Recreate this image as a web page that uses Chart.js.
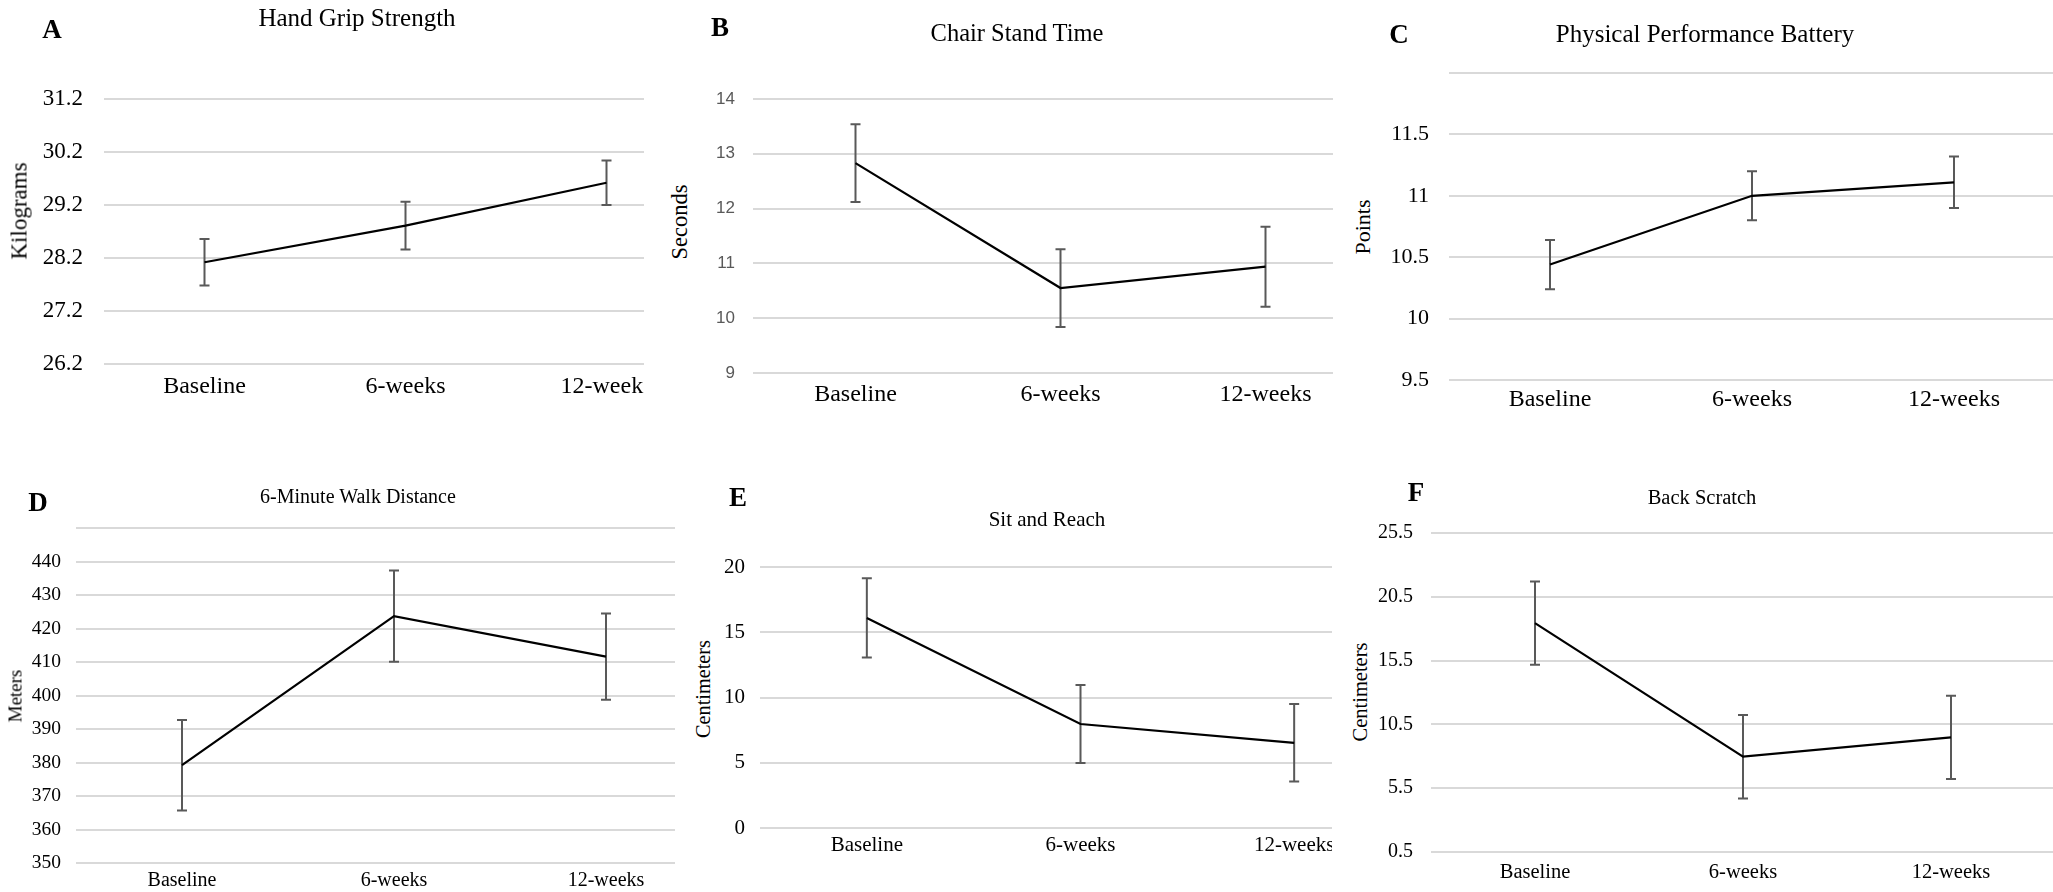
<!DOCTYPE html>
<html><head><meta charset="utf-8">
<script src="https://cdn.jsdelivr.net/npm/chart.js@4.4.0/dist/chart.umd.min.js"></script>
<style>
html,body{margin:0;padding:0;background:#fff;}
body{width:2053px;height:892px;position:relative;overflow:hidden;font-family:"Liberation Serif","Times New Roman",serif;}
.wrap{position:absolute;overflow:hidden;}
.wrap canvas{position:absolute;left:0;top:0;}
.txt{position:absolute;white-space:nowrap;line-height:1;color:#000;transform:translate(-50%,-50%);}
.letter{font-weight:bold;}
.ytitle{transform:translate(-50%,-50%) rotate(-90deg);}
</style></head><body>
<div id="root"></div>
<script>
// ---------- data ----------
const categories = ['Baseline', '6-weeks', '12-weeks'];

const gripMean = [28.12, 28.81, 29.62];
const gripErr  = [0.44, 0.45, 0.42];
const gripTicks = [26.2, 27.2, 28.2, 29.2, 30.2, 31.2];
const gripTickLabels = ['26.2', '27.2', '28.2', '29.2', '30.2', '31.2'];

const chairMean = [12.83, 10.55, 10.94];
const chairErr  = [0.71, 0.71, 0.73];
const chairTicks = [9, 10, 11, 12, 13, 14];
const chairTickLabels = ['9', '10', '11', '12', '13', '14'];

const sppbMean = [10.44, 11.0, 11.11];
const sppbErr  = [0.2, 0.2, 0.21];
const sppbTicks = [9.5, 10, 10.5, 11, 11.5, 12];
const sppbTickLabels = ['9.5', '10', '10.5', '11', '11.5', ''];

const walkMean = [379.2, 423.7, 411.6];
const walkErr  = [13.5, 13.6, 12.9];
const walkTicks = [350, 360, 370, 380, 390, 400, 410, 420, 430, 440, 450];
const walkTickLabels = ['350', '360', '370', '380', '390', '400', '410', '420', '430', '440', ''];

const sitMean = [16.1, 7.97, 6.53];
const sitErr  = [3.04, 2.99, 2.97];
const sitTicks = [0, 5, 10, 15, 20];
const sitTickLabels = ['0', '5', '10', '15', '20'];

const scratchMean = [18.44, 7.97, 9.48];
const scratchErr  = [3.26, 3.27, 3.26];
const scratchTicks = [0.5, 5.5, 10.5, 15.5, 20.5, 25.5];
const scratchTickLabels = ['0.5', '5.5', '10.5', '15.5', '20.5', '25.5'];

const panelTitles = ['Hand Grip Strength', 'Chair Stand Time', 'Physical Performance Battery',
                     '6-Minute Walk Distance', 'Sit and Reach', 'Back Scratch'];
const panelLetters = ['A', 'B', 'C', 'D', 'E', 'F'];
const axisTitles = ['Kilograms', 'Seconds', 'Points', 'Meters', 'Centimeters', 'Centimeters'];

// ---------- layout / style ----------
const SERIF = '"Liberation Serif", "Times New Roman", serif';
const SANS = '"Liberation Sans", Arial, sans-serif';

const panels = [
  {mean: gripMean, err: gripErr, ticks: gripTicks, labels: gripTickLabels,
   L:30, T:0, clipW:614, W:677, H:420, yW:74, padTop:99, xH:56, yPad:21, xPad:8,
   tickFont:{family:SERIF,size:23}, tickColor:'#000', catSize:24,
   title:{x:357,y:17,size:25}, letter:{x:52,y:29,size:27}, ytitle:{x:19,y:211,size:23}},
  {mean: chairMean, err: chairErr, ticks: chairTicks, labels: chairTickLabels,
   L:700, T:0, clipW:633, W:668, H:420, yW:53, padTop:99, xH:47, yPad:18, xPad:7,
   tickFont:{family:SANS,size:17}, tickColor:'#595959', catSize:24,
   title:{x:1017,y:33,size:24.5}, letter:{x:720,y:27,size:27}, ytitle:{x:680,y:222,size:22.5}},
  {mean: sppbMean, err: sppbErr, ticks: sppbTicks, labels: sppbTickLabels,
   L:1385, T:0, clipW:668, W:670, H:420, yW:64, padTop:73, xH:40, yPad:20, xPad:5,
   tickFont:{family:SERIF,size:22}, tickColor:'#000', catSize:24,
   title:{x:1705,y:33,size:25}, letter:{x:1399,y:34,size:27}, ytitle:{x:1363,y:227,size:22}},
  {mean: walkMean, err: walkErr, ticks: walkTicks, labels: walkTickLabels,
   L:20, T:460, clipW:655, W:692, H:432, yW:56, padTop:68, xH:29, yPad:15, xPad:6,
   tickFont:{family:SERIF,size:19.5}, tickColor:'#000', catSize:20,
   title:{x:358,y:496,size:20}, letter:{x:38,y:502,size:27}, ytitle:{x:15,y:696,size:19}},
  {mean: sitMean, err: sitErr, ticks: sitTicks, labels: sitTickLabels,
   L:715, T:460, clipW:617, W:686, H:432, yW:45, padTop:107, xH:64, yPad:15, xPad:5,
   tickFont:{family:SERIF,size:21}, tickColor:'#000', catSize:21,
   title:{x:1047,y:519,size:21}, letter:{x:738,y:497,size:27}, ytitle:{x:703,y:689,size:20.3}},
  {mean: scratchMean, err: scratchErr, ticks: scratchTicks, labels: scratchTickLabels,
   L:1375, T:460, clipW:678, W:680, H:432, yW:56, padTop:73, xH:40, yPad:18, xPad:8,
   tickFont:{family:SERIF,size:20}, tickColor:'#000', catSize:20.5,
   title:{x:1702,y:497,size:20.5}, letter:{x:1416,y:492,size:27}, ytitle:{x:1360,y:692,size:20.5}}
];

const errorBarPlugin = {
  id: 'errorBars',
  beforeDatasetsDraw(chart, args, opts) {
    const errs = opts.errors;
    if (!errs) return;
    const meta = chart.getDatasetMeta(0);
    const ys = chart.scales.y;
    const data = chart.data.datasets[0].data;
    const ctx = chart.ctx;
    ctx.save();
    ctx.strokeStyle = opts.color;
    ctx.lineWidth = opts.width;
    meta.data.forEach((pt, i) => {
      const x = pt.x;
      const t = ys.getPixelForValue(data[i] + errs[i]);
      const b = ys.getPixelForValue(data[i] - errs[i]);
      ctx.beginPath();
      ctx.moveTo(x, t); ctx.lineTo(x, b);
      ctx.moveTo(x - opts.cap, t); ctx.lineTo(x + opts.cap, t);
      ctx.moveTo(x - opts.cap, b); ctx.lineTo(x + opts.cap, b);
      ctx.stroke();
    });
    ctx.restore();
  }
};

const root = document.getElementById('root');
function addText(cls, text, p) {
  const d = document.createElement('div');
  d.className = 'txt ' + cls;
  d.textContent = text;
  d.style.left = p.x + 'px';
  d.style.top = p.y + 'px';
  d.style.fontSize = p.size + 'px';
  root.appendChild(d);
}

panels.forEach((p, idx) => {
  const wrap = document.createElement('div');
  wrap.className = 'wrap';
  wrap.style.left = p.L + 'px';
  wrap.style.top = p.T + 'px';
  wrap.style.width = p.clipW + 'px';
  wrap.style.height = p.H + 'px';
  const cv = document.createElement('canvas');
  cv.width = p.W; cv.height = p.H;
  cv.style.width = p.W + 'px'; cv.style.height = p.H + 'px';
  wrap.appendChild(cv);
  root.appendChild(wrap);

  new Chart(cv, {
    type: 'line',
    data: {
      labels: categories,
      datasets: [{
        data: p.mean,
        borderColor: '#000',
        borderWidth: 2.2,
        pointRadius: 0,
        pointHoverRadius: 0,
        tension: 0,
        fill: false
      }]
    },
    options: {
      responsive: false,
      animation: false,
      devicePixelRatio: 1,
      events: [],
      layout: {padding: {left: 0, right: 0, top: p.padTop, bottom: 0}},
      plugins: {
        legend: {display: false},
        tooltip: {enabled: false},
        title: {display: false},
        errorBars: {errors: p.err, color: '#595959', width: 2, cap: 5}
      },
      scales: {
        x: {
          type: 'category',
          offset: true,
          grid: {display: false, drawTicks: false},
          border: {display: false},
          ticks: {
            color: '#000',
            font: {family: SERIF, size: p.catSize},
            padding: p.xPad,
            maxRotation: 0,
            autoSkip: false
          },
          afterFit: s => { s.height = p.xH; }
        },
        y: {
          type: 'linear',
          min: p.ticks[0],
          max: p.ticks[p.ticks.length - 1],
          afterBuildTicks: s => { s.ticks = p.ticks.map(v => ({value: v})); },
          grid: {color: '#d9d9d9', lineWidth: 2, drawTicks: false},
          border: {display: false},
          ticks: {
            color: p.tickColor,
            font: p.tickFont,
            padding: p.yPad,
            autoSkip: false,
            callback: (v, i) => p.labels[i]
          },
          afterFit: s => { s.width = p.yW; }
        }
      }
    },
    plugins: [errorBarPlugin]
  });

  addText('title', panelTitles[idx], p.title);
  addText('letter', panelLetters[idx], p.letter);
  addText('ytitle', axisTitles[idx], p.ytitle);
});
</script>
</body></html>
